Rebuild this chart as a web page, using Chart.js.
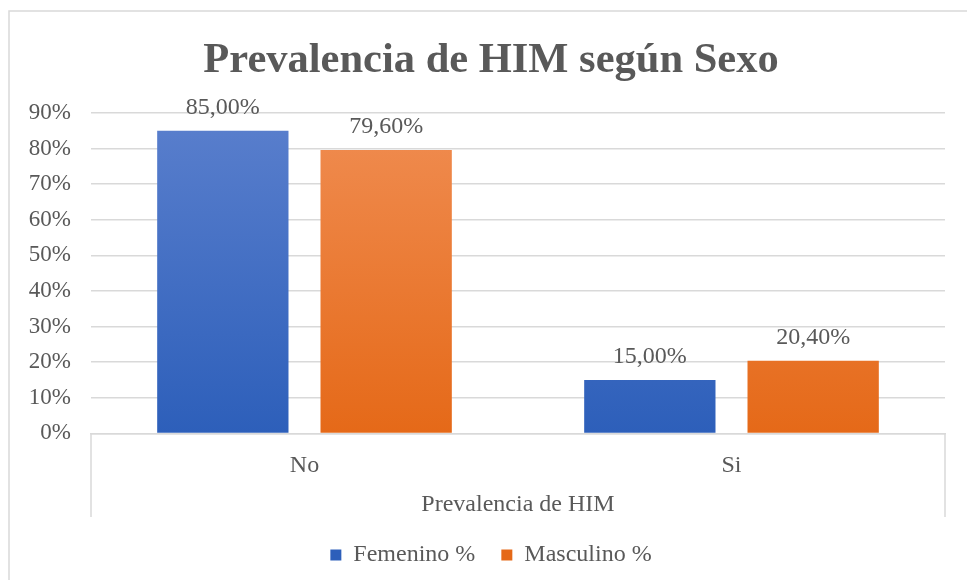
<!DOCTYPE html>
<html>
<head>
<meta charset="utf-8">
<script src="https://cdn.jsdelivr.net/npm/chart.js@4/dist/chart.umd.min.js"></script>
<style>
html,body{margin:0;padding:0;background:#fff;}
#wrap{position:relative;width:967px;height:580px;}
</style>
</head>
<body>
<div id="wrap"><canvas id="c" width="967" height="580"></canvas></div>
<script>
const categories = ["No", "Si"];
const femenino = [85.0, 15.0];
const masculino = [79.6, 20.4];
const seriesNames = ["Femenino %", "Masculino %"];
const yTicks = [0, 10, 20, 30, 40, 50, 60, 70, 80, 90];
const chartTitle = "Prevalencia de HIM según Sexo";
const xTitle = "Prevalencia de HIM";

const TXT = "#595959";
const SERIF = "'Liberation Serif', 'Times New Roman', serif";

function grad(ctx, top, bottom) {
  const ch = ctx.chart;
  const a = ch.chartArea;
  if (!a) return bottom;
  const g = ch.ctx.createLinearGradient(0, a.top, 0, a.bottom);
  g.addColorStop(0, top);
  g.addColorStop(1, bottom);
  return g;
}

function fmt(v) {
  return v.toFixed(2).replace(".", ",") + "%";
}

const decor = {
  id: "decor",
  afterLayout(chart) {
    // let the y tick labels extend left of the (narrow) axis box without clipping
    chart.scales.y.left = 0;
  },
  beforeDraw(chart) {
    const c = chart.ctx;
    c.save();
    c.fillStyle = "#fff";
    c.fillRect(0, 0, chart.width, chart.height);
    c.strokeStyle = "#d9d9d9";
    c.lineWidth = 1.5;
    c.beginPath();
    c.moveTo(9, 600);
    c.lineTo(9, 11);
    c.lineTo(970, 11);
    c.stroke();
    c.restore();
  },
  afterDatasetsDraw(chart) {
    const c = chart.ctx;
    const a = chart.chartArea;
    c.save();
    c.strokeStyle = "#d9d9d9";
    c.lineWidth = 1.5;
    c.beginPath();
    c.moveTo(a.left, a.bottom);
    c.lineTo(a.left, 517);
    c.moveTo(a.right, a.bottom);
    c.lineTo(a.right, 517);
    c.stroke();
    // chart title
    c.fillStyle = TXT;
    c.textAlign = "center";
    c.textBaseline = "alphabetic";
    c.font = "bold 42.5px " + SERIF;
    c.fillText(chartTitle, 491, 72);
    // data labels
    c.font = "24px " + SERIF;
    c.textBaseline = "middle";
    chart.data.datasets.forEach((ds, i) => {
      const meta = chart.getDatasetMeta(i);
      meta.data.forEach((bar, j) => {
        c.fillText(fmt(ds.data[j]), bar.x, bar.y - 23);
      });
    });
    c.restore();
  }
};

new Chart(document.getElementById("c"), {
  type: "bar",
  data: {
    labels: categories,
    datasets: [
      {
        label: seriesNames[0],
        data: femenino,
        backgroundColor: (ctx) => grad(ctx, "#5a7fcd", "#2d5fba"),
        categoryPercentage: 0.765,
        barPercentage: 0.804
      },
      {
        label: seriesNames[1],
        data: masculino,
        backgroundColor: (ctx) => grad(ctx, "#f08d52", "#e56918"),
        categoryPercentage: 0.765,
        barPercentage: 0.804
      }
    ]
  },
  options: {
    responsive: false,
    animation: false,
    devicePixelRatio: 1,
    layout: { padding: { left: 37, right: 22, top: 113, bottom: 3 } },
    plugins: {
      title: { display: false },
      legend: {
        position: "bottom",
        labels: {
          color: TXT,
          font: { family: SERIF, size: 24 },
          boxWidth: 11,
          boxHeight: 11,
          padding: 26
        }
      },
      tooltip: { enabled: false }
    },
    scales: {
      x: {
        grid: { display: false },
        border: { display: true, color: "#d9d9d9", width: 1.5 },
        ticks: { color: TXT, font: { family: SERIF, size: 24 }, padding: 10 },
        title: {
          display: true,
          text: xTitle,
          color: TXT,
          font: { family: SERIF, size: 24 },
          padding: { top: 0, bottom: -2 }
        }
      },
      y: {
        min: 0,
        max: 90,
        afterBuildTicks: (s) => { s.ticks = yTicks.map(v => ({ value: v })); },
        afterFit: (s) => { s.width = 54; },
        grid: { color: "#d9d9d9", lineWidth: 1.5, drawTicks: false },
        border: { display: false },
        ticks: {
          color: TXT,
          font: { family: SERIF, size: 23 },
          padding: 20,
          callback: (v) => v + "%"
        }
      }
    }
  },
  plugins: [decor]
});
</script>
</body>
</html>
